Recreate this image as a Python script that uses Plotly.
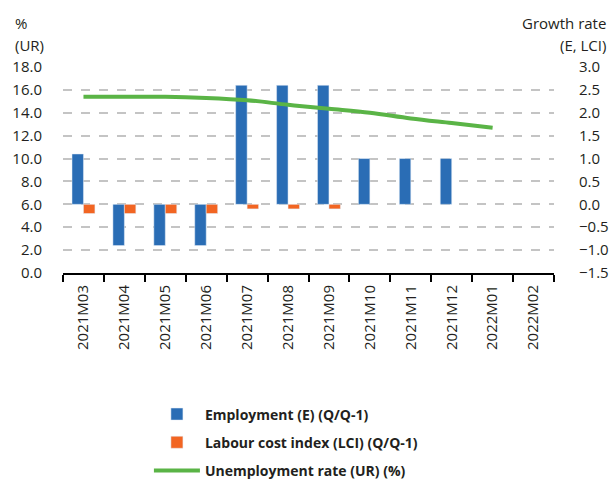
import plotly.graph_objects as go

# categories (months)
months = ['2021M03', '2021M04', '2021M05', '2021M06', '2021M07', '2021M08',
          '2021M09', '2021M10', '2021M11', '2021M12', '2022M01', '2022M02']

# growth rates (right axis)
employment = [1.1, -0.9, -0.9, -0.9, 2.6, 2.6, 2.6, 1.0, 1.0, 1.0, None, None]
labour_cost = [-0.2, -0.2, -0.2, -0.2, -0.1, -0.1, -0.1, None, None, None, None, None]

# unemployment rate (left axis, %)
unemployment = [15.4, 15.4, 15.4, 15.3, 15.1, 14.7, 14.35, 14.0, 13.5, 13.1, 12.7, None]

TXT = '#231f20'
FONT = 'Open Sans'

PW, PH = 491, 206  # plot area size

fig = go.Figure()
fig.add_trace(go.Bar(x=months, y=employment, name='Employment (E) (Q/Q-1)',
                     marker_color='#2a6db5', yaxis='y', legendgroup='e'))
fig.add_trace(go.Bar(x=months, y=labour_cost, name='Labour cost index (LCI) (Q/Q-1)',
                     marker_color='#f26522', yaxis='y', legendgroup='l'))
fig.add_trace(go.Scatter(x=months, y=unemployment, name='Unemployment rate (UR) (%)',
                         mode='lines', line=dict(color='#5ab446', width=4, shape='spline'),
                         yaxis='y2', legendgroup='u'))

fig.update_layout(
    width=611, height=484,
    margin=dict(l=63, r=57, t=67, b=211, autoexpand=False),
    paper_bgcolor='white', plot_bgcolor='white',
    font=dict(family=FONT, size=15, color=TXT),
    barmode='group', bargap=0.44, bargroupgap=0,
    xaxis=dict(
        type='category', tickangle=-90, automargin=False,
        showline=True, linecolor='black', linewidth=2,
        ticks='outside', tickson='boundaries', ticklen=7, tickwidth=2, tickcolor='black',
        tickfont=dict(size=15, color=TXT), showgrid=False, ticklabelstandoff=4,
    ),
    # growth rate axis (right)
    yaxis=dict(
        side='right', range=[-1.5, 3.0], dtick=0.5, tickformat='.1f', automargin=False,
        showgrid=True, gridcolor='#c4c4c4', griddash='dash', gridwidth=1.5,
        zeroline=False, ticks='', ticklabelstandoff=24,
        tickfont=dict(size=15, color=TXT),
    ),
    # unemployment axis (left)
    yaxis2=dict(
        side='left', overlaying='y', range=[0, 18], dtick=2, tickformat='.1f',
        automargin=False, showgrid=False, zeroline=False, ticks='', ticklabelstandoff=20,
        tickfont=dict(size=15, color=TXT),
    ),
    showlegend=True,
    legend=dict(
        x=0.175, y=-0.609, xanchor='left', yanchor='top',
        orientation='v', traceorder='grouped', tracegroupgap=7, itemwidth=46,
        font=dict(family=FONT, size=14, color=TXT, weight='bold'),
        bgcolor='rgba(0,0,0,0)',
    ),
    annotations=[
        dict(text='%', xref='paper', yref='paper', x=-50 / PW, y=1 + 44 / PH,
             xanchor='left', yanchor='middle', showarrow=False),
        dict(text='(UR)', xref='paper', yref='paper', x=-50 / PW, y=1 + 22 / PH,
             xanchor='left', yanchor='middle', showarrow=False),
        dict(text='Growth rate', xref='paper', yref='paper', x=1 + 54 / PW, y=1 + 44 / PH,
             xanchor='right', yanchor='middle', showarrow=False),
        dict(text='(E, LCI)', xref='paper', yref='paper', x=1 + 54 / PW, y=1 + 22 / PH,
             xanchor='right', yanchor='middle', showarrow=False),
    ],
)

# drop the default 8px body margin so the figure fills the window exactly
fig.write_html('out.html', config={'displayModeBar': False},
               post_script="document.body.style.margin='0';")
